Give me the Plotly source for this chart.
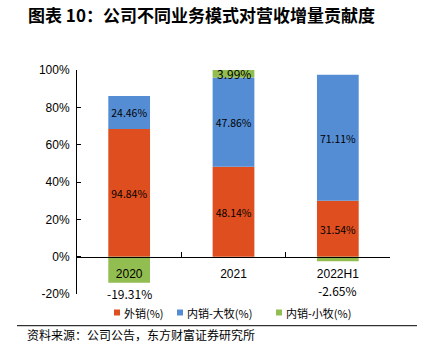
import plotly.graph_objects as go

categories = ["2020", "2021", "2022H1"]
export_pct = [94.84, 48.14, 31.54]      # 外销(%)
big_brand_pct = [24.46, 47.86, 71.11]   # 内销-大牧(%)
small_brand_pct = [-19.31, 3.99, -2.65] # 内销-小牧(%)

series_names = ["外销(%)", "内销-大牧(%)", "内销-小牧(%)"]
colors = ["#DE4E1F", "#558DD4", "#92BD50"]

# bars are drawn as each value's share of the total absolute contribution
totals = [abs(a) + abs(b) + abs(c) for a, b, c in zip(export_pct, big_brand_pct, small_brand_pct)]
series = [export_pct, big_brand_pct, small_brand_pct]
heights_all = [[v / t * 100 for v, t in zip(vals, totals)] for vals in series]

FONT = "Noto Sans CJK SC"
LBL = dict(family=FONT, size=12, color="black")

fig = go.Figure()
annotations = []
for si, (name, vals, col) in enumerate(zip(series_names, series, colors)):
    heights = heights_all[si]
    texts = []
    for ci, (v, h) in enumerate(zip(vals, heights)):
        if v < 0 or abs(h) < 6:
            texts.append("")
        else:
            texts.append(f"{v:.2f}%")
    fig.add_trace(go.Bar(
        x=categories, y=heights, name=name,
        marker=dict(color=col, line=dict(width=0)),
        text=texts, textposition="inside", insidetextanchor="middle",
        textangle=0, insidetextfont=LBL, cliponaxis=False,
        showlegend=False,
    ))

# labels that do not fit inside their bar (x given as category index)
pos_base = [0.0] * len(categories)
neg_base = [0.0] * len(categories)
for si, vals in enumerate(series):
    for ci, h in enumerate(heights_all[si]):
        v = vals[ci]
        if h >= 0:
            lo, hi = pos_base[ci], pos_base[ci] + h
            pos_base[ci] = hi
        else:
            lo, hi = neg_base[ci] + h, neg_base[ci]
            neg_base[ci] = lo
        if v < 0:
            shift = 0 if abs(h) > 8 else -19
            annotations.append(dict(x=ci, y=lo, xref="x", yref="y",
                                    text=f"{v:.2f}%", showarrow=False, yanchor="top",
                                    yshift=shift, font=LBL))
        elif abs(h) < 6:
            annotations.append(dict(x=ci, y=(lo + hi) / 2, xref="x", yref="y",
                                    text=f"{v:.2f}%", showarrow=False, yanchor="middle",
                                    font=LBL))

# manual legend (compact, as in the reference)
leg_x = [117, 180, 279]
for name, col, px in zip(series_names, colors, leg_x):
    yp = (294 - 312.5) / 224
    annotations.append(dict(x=(px + 5 - 77) / 313, y=yp, xref="paper", yref="paper",
                            text=name, showarrow=False, xanchor="left", yanchor="middle",
                            font=dict(family=FONT, size=11, color="black")))

shapes = [dict(type="line", xref="paper", yref="paper",
               x0=(17 - 77) / 313, x1=(417 - 77) / 313, y0=(294 - 325.7) / 224, y1=(294 - 325.7) / 224,
               line=dict(color="black", width=1))]
for col, px in zip(colors, leg_x):
    shapes.append(dict(type="rect", xref="paper", yref="paper",
                       x0=(px - 3 - 77) / 313, x1=(px + 3 - 77) / 313,
                       y0=(294 - 315.5) / 224, y1=(294 - 309.5) / 224,
                       fillcolor=col, line=dict(width=0)))

annotations.append(dict(text="资料来源：公司公告，东方财富证券研究所", xref="paper", yref="paper",
                        x=(25 - 77) / 313, y=(294 - 334) / 224, xanchor="left", yanchor="middle",
                        showarrow=False, font=dict(family=FONT, size=12, color="black")))

fig.update_layout(
    barmode="relative",
    bargap=0.6,
    width=424, height=353,
    margin=dict(l=77, r=34, t=70, b=59),
    paper_bgcolor="white", plot_bgcolor="white",
    showlegend=False,
    title=dict(
        text="<b>图表 10：公司不同业务模式对营收增量贡献度</b>",
        font=dict(family=FONT, size=17, color="black"),
        x=28 / 424, xanchor="left", y=1 - 16 / 353, yanchor="middle",
    ),
    xaxis=dict(
        type="category", anchor="free", position=1 / 6,
        range=[-0.5, len(categories) - 0.5],
        showline=True, linecolor="black", linewidth=1,
        ticks="inside", tickson="boundaries", ticklen=5, tickcolor="black",
        tickfont=dict(family="Liberation Sans", size=12, color="black"),
        ticklabelstandoff=6,
        showgrid=False, zeroline=False,
    ),
    yaxis=dict(
        range=[-20, 100], tickvals=[-20, 0, 20, 40, 60, 80, 100],
        ticktext=["-20%", "0%", "20%", "40%", "60%", "80%", "100%"],
        showline=True, linecolor="black", linewidth=1,
        ticks="inside", ticklen=4, tickcolor="black",
        tickfont=dict(family="Liberation Sans", size=12, color="black"),
        ticklabelstandoff=4,
        showgrid=False, zeroline=False,
    ),
    shapes=shapes,
    annotations=annotations,
)

fig.write_html("out.html")
